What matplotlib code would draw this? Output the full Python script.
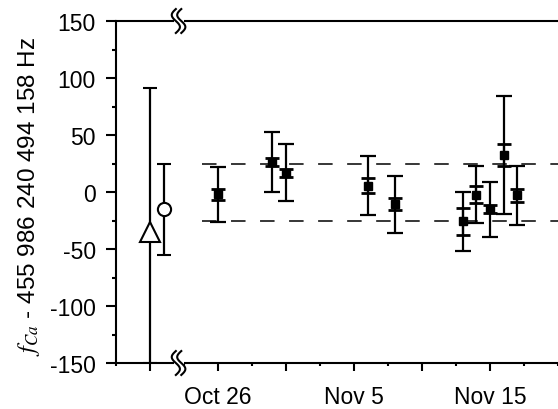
import numpy as np
import matplotlib.pyplot as plt
from matplotlib.ticker import FixedLocator, MultipleLocator

plt.rcParams['font.family'] = ['Liberation Sans', 'DejaVu Sans']
plt.rcParams['mathtext.fontset'] = 'stix'
plt.rcParams['axes.unicode_minus'] = False

# measurement days, counted from Oct 26
days = [0, 4, 5, 11, 13, 18, 19, 20, 21, 22]
freq = [-2.1, 26.2, 17.0, 5.7, -10.6, -25.8, -2.3, -15.1, 32.6, -2.8]
err_total = [24, 26, 25, 26, 25, 26, 25, 24, 52, 26]
err_stat = [4.7, 3.7, 3.6, 6.8, 5.1, 11.7, 7.2, 3.7, 9.4, 5.6]

# earlier reference values (left of the axis break)
tri_day, tri_val, tri_err_lo, tri_err_hi = -5, -35, 115, 126
circ_day, circ_val, circ_err = -4, -15.2, 39.8

band = 25
band_start = -1.2
break_day = -2.9

tick_days = [-5, 0, 5, 10, 15, 20]
tick_labels = ['', 'Oct 26', '', 'Nov 5', '', 'Nov 15']

fig = plt.figure(figsize=(5.58, 4.10), dpi=100)
ax = fig.add_axes([116 / 558, 46 / 410, 442 / 558, 342 / 410])

# +-25 Hz band
ax.hlines([band, -band], band_start, 25.5, colors='black', lw=1.1,
          linestyles=(0, (9.5, 9.5)), zorder=1)

# main points: total and statistical error bars
ax.errorbar(days, freq, yerr=err_total, fmt='none', ecolor='black',
            elinewidth=1.6, capsize=6, capthick=1.6, zorder=3)
ax.errorbar(days, freq, yerr=err_stat, fmt='none', ecolor='black',
            elinewidth=1.6, capsize=4.7, capthick=2, zorder=3)
ax.plot(days, freq, 's', color='black', ms=6, zorder=4)

# reference points
ax.errorbar([tri_day], [tri_val], yerr=[[tri_err_lo], [tri_err_hi]], fmt='^',
            mfc='white', mec='black', mew=1.5, ms=15, ecolor='black',
            elinewidth=1.6, capsize=5, capthick=1.6, zorder=3)
ax.errorbar([circ_day], [circ_val], yerr=circ_err, fmt='o',
            mfc='white', mec='black', mew=1.5, ms=9.5, ecolor='black',
            elinewidth=1.6, capsize=5, capthick=1.6, zorder=3)

ax.set_xlim(-7.5, 25)
ax.set_ylim(-150, 150)

ax.xaxis.set_major_locator(FixedLocator(tick_days))
ax.set_xticklabels(tick_labels)
ax.xaxis.set_minor_locator(MultipleLocator(2.5))
ax.yaxis.set_major_locator(MultipleLocator(50))
ax.yaxis.set_minor_locator(MultipleLocator(25))
ax.tick_params(which='major', direction='out', length=7.5, width=1.5,
               labelsize=16.5, pad=7)
ax.tick_params(which='minor', direction='out', length=3, width=1.5)
ax.tick_params(axis='x', which='major', length=5.5, pad=10.5)
ax.tick_params(axis='x', which='minor', length=2.5)

for s in ['left', 'bottom', 'top']:
    ax.spines[s].set_linewidth(1.5)
ax.spines['right'].set_visible(False)

# axis break marks on top and bottom spines
t = np.linspace(0, 1, 60)
for yb in [150, -150]:
    ax.plot([break_day - 0.33, break_day + 0.38], [yb, yb], color='white',
            lw=4, clip_on=False, zorder=5, solid_capstyle='butt')
    for dx in [-0.2, 0.2]:
        xs = break_day + dx - 0.3 * np.sin(2 * np.pi * t)
        ys = yb + 10.5 - 21 * t
        ax.plot(xs, ys, color='black', lw=1.5, clip_on=False, zorder=6)

ax.set_ylabel(r'$f_{Ca}$ - 455 986 240 494 158 Hz', fontsize=17.5)
ax.yaxis.set_label_coords(-0.168, 0.49)

fig.savefig('out.png', dpi=100)
